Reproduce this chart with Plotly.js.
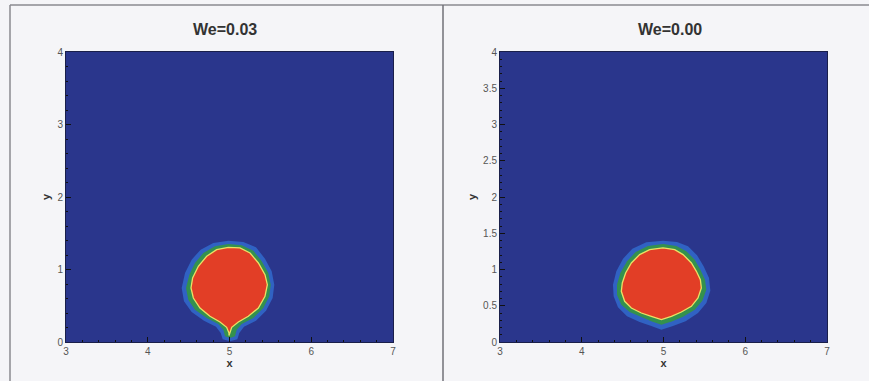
<!DOCTYPE html>
<html>
<head>
<meta charset="utf-8">
<script src="https://cdn.plot.ly/plotly-3.0.1.min.js"></script>
<style>html,body{margin:0;padding:0;background:#f5f5f8;}#chart{width:869px;height:381px;}</style>
</head>
<body>
<div id="chart"></div>
<script>
// Panel titles
const panelTitles = ["We=0.03", "We=0.00"];
// Tick values
const xTicks = [3, 4, 5, 6, 7];
const yTicksLeft = [0, 1, 2, 3, 4];
const yTicksRight = [0, 0.5, 1, 1.5, 2, 2.5, 3, 3.5, 4];

// Left droplet (We=0.03) contour outlines
const leftRedX = [4.986,4.843,4.721,4.619,4.549,4.529,4.558,4.639,4.761,4.884,4.965,4.994,4.994,5.027,5.108,5.230,5.353,5.434,5.463,5.434,5.353,5.251,5.128];
const leftRedY = [1.306,1.274,1.182,1.044,0.883,0.745,0.607,0.469,0.354,0.276,0.202,0.124,0.09,0.202,0.276,0.354,0.469,0.630,0.791,0.929,1.090,1.228,1.297];
const leftGreenX = [4.986,4.823,4.680,4.578,4.509,4.468,4.496,4.578,4.721,4.863,4.925,4.945,5.006,5.067,5.088,5.149,5.292,5.414,5.487,5.504,5.475,5.394,5.292,5.149];
const leftGreenY = [1.352,1.320,1.228,1.090,0.929,0.745,0.584,0.446,0.331,0.248,0.170,0.078,0.055,0.078,0.170,0.248,0.331,0.469,0.630,0.791,0.952,1.113,1.260,1.333];
const leftBlueX = [4.986,4.802,4.647,4.537,4.456,4.415,4.443,4.537,4.688,4.835,4.892,4.917,5.006,5.096,5.120,5.177,5.324,5.447,5.528,5.548,5.516,5.434,5.324,5.169];
const leftBlueY = [1.398,1.366,1.274,1.136,0.952,0.745,0.561,0.414,0.294,0.211,0.124,0.037,0.009,0.037,0.124,0.211,0.294,0.432,0.607,0.791,0.975,1.149,1.306,1.379];

// Right droplet (We=0.00)
const rightRedX = [4.994,4.831,4.708,4.607,4.537,4.496,4.484,4.525,4.607,4.729,4.851,4.974,5.096,5.218,5.341,5.422,5.463,5.451,5.402,5.341,5.239,5.137];
const rightRedY = [1.297,1.274,1.205,1.090,0.952,0.814,0.699,0.561,0.469,0.400,0.354,0.308,0.354,0.414,0.492,0.607,0.745,0.860,0.975,1.090,1.205,1.274];
const rightGreenX = [4.994,4.810,4.660,4.554,4.472,4.431,4.431,4.484,4.586,4.729,4.851,4.974,5.108,5.239,5.382,5.475,5.524,5.508,5.451,5.382,5.279,5.157];
const rightGreenY = [1.352,1.324,1.241,1.113,0.952,0.791,0.653,0.515,0.414,0.340,0.285,0.239,0.285,0.349,0.446,0.570,0.722,0.860,0.998,1.136,1.251,1.324];
const rightBlueX = [4.994,4.790,4.619,4.505,4.423,4.382,4.390,4.443,4.554,4.708,4.851,4.974,5.116,5.271,5.422,5.524,5.573,5.557,5.491,5.410,5.300,5.165];
const rightBlueY = [1.398,1.375,1.287,1.149,0.975,0.791,0.630,0.478,0.354,0.276,0.221,0.170,0.221,0.285,0.400,0.538,0.708,0.883,1.044,1.195,1.320,1.379];

const BLUE = 'rgb(48,98,195)', GREEN = 'rgb(52,145,78)', YEL = 'rgb(235,225,100)', RED = 'rgb(226,62,38)';
function close(a){ return a.concat([a[0]]); }
function poly(x, y, fill, xa, ya, line){
  return {type:'scatter', mode:'lines', x:close(x), y:close(y), fill:'toself', fillcolor:fill,
    line: line || {width:0, color:fill}, xaxis:xa, yaxis:ya, hoverinfo:'skip', showlegend:false};
}
const traces = [
  poly(leftBlueX, leftBlueY, BLUE, 'x', 'y'),
  poly(leftGreenX, leftGreenY, GREEN, 'x', 'y'),
  poly(leftRedX, leftRedY, RED, 'x', 'y', {width:1.3, color:YEL}),
  poly(rightBlueX, rightBlueY, BLUE, 'x2', 'y2'),
  poly(rightGreenX, rightGreenY, GREEN, 'x2', 'y2'),
  poly(rightRedX, rightRedY, RED, 'x2', 'y2', {width:1.3, color:YEL})
];

const W = 869, H = 381;
const tickFont = {family:'Liberation Sans, Arial, sans-serif', size:10, color:'#555'};
const axTitleFont = {family:'Liberation Sans, Arial, sans-serif', size:11, color:'#333', weight:'bold'};
function xax(domain){
  return {domain:domain, range:[3,7], tickvals:xTicks, ticks:'inside', ticklen:5, tickcolor:'#111',
    showline:true, linecolor:'#1a1f4a', linewidth:1, mirror:true, showgrid:false, zeroline:false,
    tickfont:tickFont, minor:{ticks:'inside', ticklen:2, dtick:0.2, tickcolor:'#111', showgrid:false},
    title:{text:'x', font:axTitleFont, standoff:0}, fixedrange:true};
}
function yax(ticks, minorD, anchor){
  return {domain:[39/H, 329/H], range:[0,4], tickvals:ticks, ticks:'inside', ticklen:5, tickcolor:'#111',
    showline:true, linecolor:'#1a1f4a', linewidth:1, mirror:true, showgrid:false, zeroline:false,
    tickfont:tickFont, minor:{ticks:'inside', ticklen:2, dtick:minorD, tickcolor:'#111', showgrid:false},
    title:{text:'y', font:axTitleFont, standoff:4}, anchor:anchor, fixedrange:true};
}
const layout = {
  width:W, height:H, margin:{l:0,r:0,t:0,b:0},
  paper_bgcolor:'#f5f5f8', plot_bgcolor:'rgb(42,54,140)',
  showlegend:false,
  xaxis: Object.assign(xax([66/W, 393/W]), {anchor:'y'}),
  yaxis: yax(yTicksLeft, 0.2, 'x'),
  xaxis2: Object.assign(xax([500/W, 827/W]), {anchor:'y2'}),
  yaxis2: yax(yTicksRight, 0.1, 'x2'),
  annotations: [
    {text:panelTitles[0], x:225/W, y:(H-29)/H, xref:'paper', yref:'paper', xanchor:'center', yanchor:'middle', showarrow:false,
     font:{family:'Liberation Sans, Arial, sans-serif', size:16, color:'#333', weight:'bold'}},
    {text:panelTitles[1], x:670/W, y:(H-29)/H, xref:'paper', yref:'paper', xanchor:'center', yanchor:'middle', showarrow:false,
     font:{family:'Liberation Sans, Arial, sans-serif', size:16, color:'#333', weight:'bold'}}
  ],
  shapes: [
    {type:'line', xref:'paper', yref:'paper', x0:10/W, x1:1, y0:(H-5)/H, y1:(H-5)/H, line:{color:'#8a8a90', width:1.5}},
    {type:'line', xref:'paper', yref:'paper', x0:10/W, x1:10/W, y0:0, y1:(H-5)/H, line:{color:'#8a8a90', width:1.5}},
    {type:'line', xref:'paper', yref:'paper', x0:443/W, x1:443/W, y0:0, y1:(H-5)/H, line:{color:'#707078', width:1.5}}
  ]
};
Plotly.newPlot('chart', traces, layout, {displayModeBar:false, staticPlot:true});
</script>
</body>
</html>
